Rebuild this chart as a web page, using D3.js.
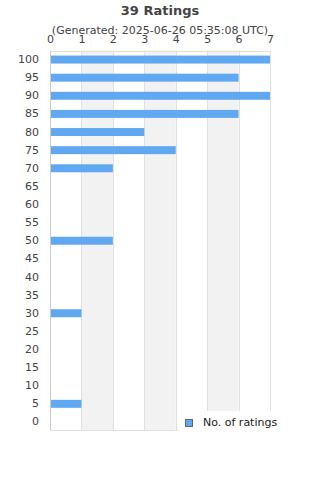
<!DOCTYPE html>
<html>
<head>
<meta charset="utf-8">
<script src="https://cdn.jsdelivr.net/npm/d3@7"></script>
<style>
  body { margin: 0; background: #fff; }
  text { font-family: "DejaVu Sans", sans-serif; }
</style>
</head>
<body>
<div id="container"></div>
<script>
// DATA
const ratings = ["100","95","90","85","80","75","70","65","60","55","50","45","40","35","30","25","20","15","10","5","0"]
const counts  = [7, 6, 7, 6, 3, 4, 2, 0, 0, 0, 2, 0, 0, 0, 1, 0, 0, 0, 0, 1, 0]
const xTicks  = [0, 1, 2, 3, 4, 5, 6, 7]
const title = "39 Ratings"
const subtitle = "(Generated: 2025-06-26 05:35:08 UTC)"
const seriesName = "No. of ratings"

// VARIABLES
const width = 320, height = 480,
      margin = {top: 50.5, bottom: 49, left: 50, right: 50}

const svg = d3.select("#container").append("svg")
    .attr("width", width).attr("height", height)

// SCALES
const xScale = d3.scaleLinear()
    .domain([0, 7])
    .range([margin.left, width - margin.right])

const yScale = d3.scaleBand()
    .domain(ratings)
    .range([margin.top, height - margin.bottom])
    .paddingInner(0.56).paddingOuter(0.28)

// bands
svg.selectAll("rect.band")
  .data(xTicks.slice(0, -1).filter(d => d % 2 === 1))
  .join("rect")
    .attr("class", "band")
    .attr("x", d => xScale(d))
    .attr("y", margin.top)
    .attr("width", d => xScale(d + 1) - xScale(d))
    .attr("height", height - margin.bottom - margin.top)
    .attr("fill", "#f2f2f2")

// gridlines
svg.selectAll("line.grid")
  .data(xTicks)
  .join("line")
    .attr("class", "grid")
    .attr("x1", d => Math.round(xScale(d)) + 0.5)
    .attr("x2", d => Math.round(xScale(d)) + 0.5)
    .attr("y1", margin.top)
    .attr("y2", height - margin.bottom)
    .attr("stroke", d => d === 0 ? "#cccccc" : "#e0e0e0")

// top + bottom border
svg.append("line")
    .attr("x1", margin.left).attr("x2", width - margin.right)
    .attr("y1", Math.round(margin.top) + 0.5).attr("y2", Math.round(margin.top) + 0.5)
    .attr("stroke", "#e0e0e0")
svg.append("line")
    .attr("x1", margin.left).attr("x2", width - margin.right)
    .attr("y1", height - margin.bottom - 0.5).attr("y2", height - margin.bottom - 0.5)
    .attr("stroke", "#e0e0e0")

// bars
svg.selectAll("rect.bar")
  .data(counts)
  .join("rect")
    .attr("class", "bar")
    .attr("x", xScale(0) + 1)
    .attr("y", (d, i) => yScale(ratings[i]))
    .attr("width", d => d > 0 ? xScale(d) - xScale(0) - 1 : 0)
    .attr("height", yScale.bandwidth())
    .attr("fill", "#60a8f2")

// axes
const xAxis = d3.axisTop(xScale).tickValues(xTicks).tickFormat(d3.format("d"))
    .tickSize(0).tickPadding(8)
svg.append("g")
    .attr("transform", `translate(0,${margin.top})`)
    .call(xAxis)
    .call(g => g.select(".domain").remove())
    .call(g => g.selectAll("text").attr("font-size", 11).attr("fill", "#444")
      .attr("font-family", "DejaVu Sans"))

const yAxis = d3.axisLeft(yScale).tickSize(0).tickPadding(11)
svg.append("g")
    .attr("transform", `translate(${margin.left},0)`)
    .call(yAxis)
    .call(g => g.select(".domain").remove())
    .call(g => g.selectAll("text").attr("font-size", 11).attr("fill", "#444")
      .attr("font-family", "DejaVu Sans"))

// titles
svg.append("text")
    .attr("x", width / 2).attr("y", 15)
    .attr("text-anchor", "middle")
    .attr("font-size", 13).attr("font-weight", "bold").attr("fill", "#444")
    .text(title)
svg.append("text")
    .attr("x", width / 2).attr("y", 34)
    .attr("text-anchor", "middle")
    .attr("font-size", 11).attr("fill", "#444")
    .text(subtitle)

// legend
const legend = svg.append("g")
legend.append("rect")
    .attr("x", 178).attr("y", 411).attr("width", 120).attr("height", 26)
    .attr("fill", "#fff")
legend.append("rect")
    .attr("x", 185.5).attr("y", 419.5).attr("width", 7).attr("height", 7)
    .attr("fill", "#60a8f2").attr("stroke", "#666")
legend.append("text")
    .attr("x", 203).attr("y", 426)
    .attr("font-size", 11).attr("fill", "#222")
    .text(seriesName)
</script>
</body>
</html>
